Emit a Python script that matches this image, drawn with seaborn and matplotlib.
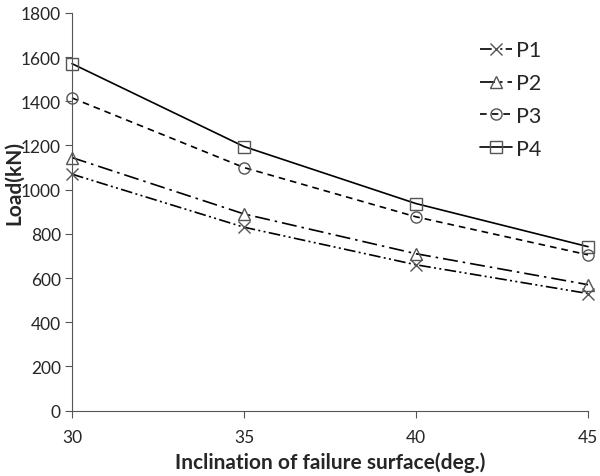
import matplotlib
matplotlib.use("Agg")
import matplotlib.pyplot as plt
import seaborn as sns
import pandas as pd

angles = [30, 35, 40, 45]
p1 = [1070, 830, 660, 530]
p2 = [1145, 890, 710, 570]
p3 = [1415, 1100, 877, 705]
p4 = [1570, 1195, 937, 742]
series_names = ["P1", "P2", "P3", "P4"]
y_ticks = [0, 200, 400, 600, 800, 1000, 1200, 1400, 1600, 1800]
x_ticks = [30, 35, 40, 45]

sns.set_theme(style="ticks")
plt.rcParams['font.family'] = ['Lato', 'DejaVu Sans']

df = pd.DataFrame({
    "angle": angles * 4,
    "load": p1 + p2 + p3 + p4,
    "series": sum([[n] * len(angles) for n in series_names], []),
})

fig = plt.figure(figsize=(6.0, 4.77), dpi=100)
ax = fig.add_axes([0.12, 0.137, 0.86, 0.834])

styles = {
    "P1": dict(ls=(0, (7, 2, 1.2, 2, 1.2, 2)), marker="x", ms=9),
    "P2": dict(ls=(0, (9, 3, 1.5, 3)), marker="^", ms=8),
    "P3": dict(ls=(0, (4, 3)), marker="o", ms=8),
    "P4": dict(ls="-", marker="s", ms=8),
}
for name in series_names:
    sub = df[df.series == name]
    st = styles[name]
    sns.lineplot(data=sub, x="angle", y="load", ax=ax, color="black", lw=1.2,
                 linestyle=st["ls"], marker=st["marker"], markersize=st["ms"],
                 markerfacecolor="none", markeredgecolor="#555555",
                 markeredgewidth=1.0, label=name, clip_on=False)

ax.set_xlim(30, 45)
ax.set_ylim(0, 1800)
ax.set_xticks(x_ticks)
ax.set_yticks(y_ticks)
ax.tick_params(axis="both", labelsize=12.5, length=5, width=0.8, color="#555555", direction="out")
ax.tick_params(axis="x", pad=8)
ax.tick_params(axis="y", pad=3)
for s in ["top", "right"]:
    ax.spines[s].set_visible(False)
for s in ["left", "bottom"]:
    ax.spines[s].set_color("#555555")
    ax.spines[s].set_linewidth(0.8)
ax.set_xlabel("Inclination of failure surface(deg.)", fontsize=15, fontweight="bold", labelpad=5)
ax.set_ylabel("Load(kN)", fontsize=15, fontweight="bold")
ax.yaxis.set_label_coords(-0.092, 0.575)
leg = ax.legend(loc="upper right", bbox_to_anchor=(0.948, 0.98), frameon=False, fontsize=15.5,
                handlelength=1.5, labelspacing=0.6, handletextpad=0.2)
fig.savefig("out.png", dpi=100)
